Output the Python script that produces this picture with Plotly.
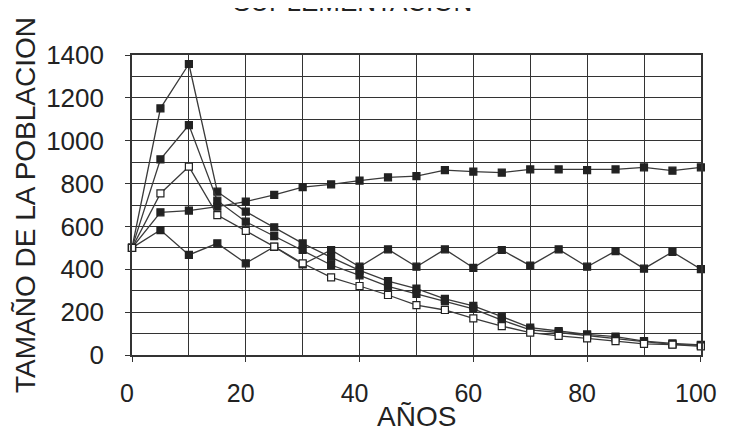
import plotly.graph_objects as go

years = list(range(0, 101, 5))

serie_pico_alto = [500, 1151, 1358, 762, 669, 596, 521, 456, 395, 345, 310, 262, 229, 179, 128, 112, 96, 86, 65, 54, 47]
serie_pico_medio = [500, 913, 1073, 720, 622, 555, 490, 420, 372, 320, 285, 250, 215, 163, 117, 105, 90, 78, 62, 50, 45]
serie_abierta = [500, 754, 879, 653, 579, 506, 428, 362, 322, 280, 233, 210, 171, 135, 104, 89, 78, 65, 52, 48, 40]
serie_creciente = [500, 666, 674, 692, 716, 747, 783, 796, 814, 829, 835, 863, 856, 851, 866, 866, 863, 866, 876, 860, 876]
serie_zigzag = [500, 583, 467, 521, 428, 505, 423, 490, 412, 493, 412, 493, 407, 490, 417, 493, 412, 485, 403, 481, 401]

title_text = "SUPLEMENTACION"
x_title = "AÑOS"
y_title = "TAMAÑO DE LA POBLACION"

ink = "#222222"
line_col = "#3a3a3a"
font_family = "Liberation Sans, Arial, sans-serif"

fig = go.Figure()

def add(ys, open_marker=False):
    fig.add_trace(go.Scatter(
        x=years, y=ys, mode="lines+markers",
        line=dict(color=line_col, width=1.3),
        marker=dict(symbol="square", size=7,
                    color="white" if open_marker else ink,
                    line=dict(color=ink, width=1.2)),
        showlegend=False, cliponaxis=False,
    ))

add(serie_zigzag)
add(serie_creciente)
add(serie_pico_alto)
add(serie_pico_medio)
add(serie_abierta, open_marker=True)

grid = "#333333"
fig.update_layout(
    width=721, height=426,
    margin=dict(l=124, r=20, t=47, b=79),
    paper_bgcolor="white", plot_bgcolor="white",
    font=dict(family=font_family, color=ink, size=24),
    xaxis=dict(
        range=[0, 100.02], dtick=20, tick0=0,
        showgrid=True, gridcolor=grid, gridwidth=1.4,
        minor=dict(dtick=10, showgrid=True, gridcolor=grid, gridwidth=1.4),
        ticks="outside", ticklen=5, tickcolor=grid, tickwidth=1.4,
        showline=True, linecolor=grid, linewidth=1.6, mirror=True,
        zeroline=False, ticklabelstandoff=10, ticklabelshift=-5,
        ticklabeloverflow="allow",
        tickfont=dict(size=25),
    ),
    yaxis=dict(
        range=[0, 1400], dtick=200, tick0=0,
        showgrid=True, gridcolor=grid, gridwidth=1.4,
        minor=dict(dtick=100, showgrid=True, gridcolor=grid, gridwidth=1.4),
        ticks="outside", ticklen=5, tickcolor=grid, tickwidth=1.4,
        showline=True, linecolor=grid, linewidth=1.6, mirror=True,
        zeroline=False, ticklabelstandoff=16,
        tickfont=dict(size=26),
    ),
    annotations=[
        dict(text=title_text, xref="paper", yref="paper", x=(356 - 132) / 577, y=1,
             xanchor="center", yanchor="bottom", yshift=36, showarrow=False,
             font=dict(size=26)),
        dict(text=x_title, xref="paper", yref="paper", x=0.5, y=0,
             xanchor="center", yanchor="middle", yshift=-61, showarrow=False,
             font=dict(size=28)),
        dict(text=y_title, xref="paper", yref="paper", x=0, y=0.5,
             xanchor="center", yanchor="middle", xshift=-107, textangle=-90,
             showarrow=False, font=dict(size=28)),
    ],
)

fig.write_html("out.html")
